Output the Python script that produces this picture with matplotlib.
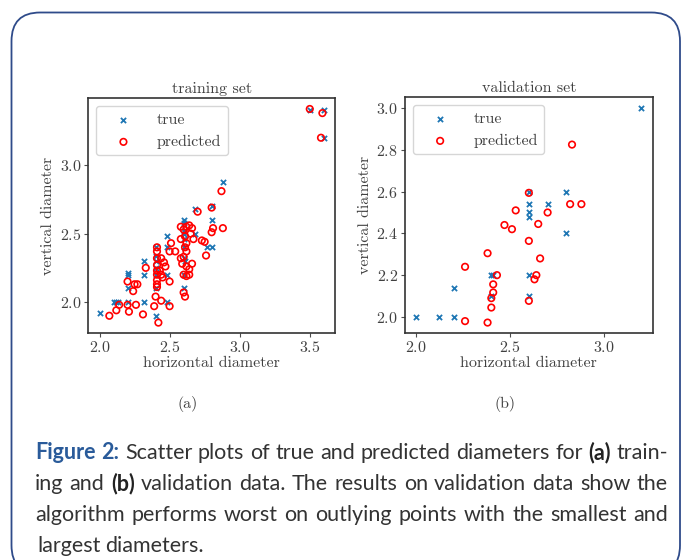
import matplotlib.pyplot as plt
from matplotlib.patches import FancyBboxPatch

plt.rcParams['font.family'] = 'cmr10'
plt.rcParams['mathtext.fontset'] = 'cm'
plt.rcParams['axes.formatter.use_mathtext'] = True

# training set, true diameters (horizontal, vertical)
train_true_x = [2.0, 2.1, 2.12, 2.13, 2.2, 2.2, 2.2, 2.2, 2.32, 2.32, 2.32, 2.4, 2.4, 2.4, 2.4,
                2.4, 2.4, 2.4, 2.48, 2.48, 2.48, 2.48, 2.6, 2.6, 2.6, 2.6, 2.6, 2.6, 2.6, 2.6,
                2.68, 2.68, 2.8, 2.8, 2.77, 2.8, 2.88, 3.5, 3.6, 3.6, 2.6, 2.61]
train_true_y = [1.92, 2.0, 2.0, 2.0, 2.0, 2.1, 2.2, 2.21, 2.3, 2.2, 2.0, 1.9, 2.1, 2.2, 2.25,
                2.3, 2.34, 2.4, 2.48, 2.4, 2.2, 2.0, 2.6, 2.58, 2.52, 2.5, 2.4, 2.32, 2.2, 2.1,
                2.68, 2.5, 2.7, 2.6, 2.4, 2.4, 2.88, 3.4, 3.4, 3.2, 2.46, 2.3]

# training set, predicted diameters
train_pred_x = [2.07, 2.12, 2.14, 2.2, 2.21, 2.26, 2.31, 2.2, 2.24, 2.25, 2.27, 2.33, 2.39, 2.4,
                2.42, 2.44, 2.5, 2.5, 2.41, 2.41, 2.41, 2.41, 2.41, 2.41, 2.41, 2.41, 2.41,
                2.44, 2.46, 2.47, 2.43, 2.44, 2.45, 2.51, 2.5, 2.54, 2.58, 2.59, 2.58, 2.6,
                2.62, 2.61, 2.62, 2.6, 2.62, 2.64, 2.61, 2.65, 2.66, 2.64, 2.66, 2.62, 2.64,
                2.62, 2.6, 2.6, 2.61, 2.67, 2.7, 2.73, 2.75, 2.76, 2.8, 2.8, 2.81, 2.88, 2.87,
                3.5, 3.59, 3.58, 2.58]
train_pred_y = [1.9, 1.94, 1.98, 1.98, 1.93, 1.98, 1.91, 2.15, 2.08, 2.13, 2.13, 2.25, 1.97, 2.04,
                1.85, 2.01, 1.97, 2.15, 2.4, 2.37, 2.32, 2.27, 2.23, 2.2, 2.16, 2.13, 2.11,
                2.32, 2.29, 2.26, 2.23, 2.2, 2.18, 2.43, 2.37, 2.37, 2.46, 2.28, 2.32, 2.33,
                2.37, 2.4, 2.43, 2.53, 2.55, 2.56, 2.48, 2.5, 2.54, 2.24, 2.28, 2.26, 2.2,
                2.19, 2.2, 2.07, 2.04, 2.46, 2.66, 2.45, 2.44, 2.34, 2.69, 2.51, 2.54, 2.54, 2.81,
                3.41, 3.38, 3.2, 2.55]

# validation set, true diameters
val_true_x = [2.0, 2.12, 2.2, 2.2, 2.4, 2.41, 2.4, 2.6, 2.6, 2.6, 2.6, 2.6, 2.6, 2.7, 2.8, 2.8, 3.2]
val_true_y = [2.0, 2.0, 2.0, 2.14, 2.2, 2.2, 2.1, 2.6, 2.54, 2.5, 2.48, 2.2, 2.1, 2.54, 2.6, 2.4, 3.0]

# validation set, predicted diameters
val_pred_x = [2.83, 2.6, 2.53, 2.7, 2.82, 2.88, 2.47, 2.51, 2.65, 2.6, 2.38, 2.66, 2.26, 2.43,
              2.64, 2.63, 2.41, 2.41, 2.4, 2.4, 2.6, 2.26, 2.38]
val_pred_y = [2.825, 2.594, 2.51, 2.5, 2.54, 2.54, 2.44, 2.42, 2.445, 2.364, 2.305, 2.28, 2.24,
              2.2, 2.2, 2.18, 2.156, 2.117, 2.09, 2.045, 2.077, 1.98, 1.973]

caption_lines = [
    [("Figure 2:", "bold", "#2a5b9a"),
     ("Scatter plots of true and predicted diameters for", "normal", "#333333"),
     ("(a)", "bold", "#222222"), ("train-", "normal", "#333333")],
    [("ing and", "normal", "#333333"), ("(b)", "bold", "#222222"),
     ("validation data. The results on validation data show the", "normal", "#333333")],
    [("algorithm performs worst on outlying points with the smallest and", "normal", "#333333")],
    [("largest diameters.", "normal", "#333333")],
]

W, H = 683, 560
fig = plt.figure(figsize=(W / 100, H / 100), dpi=100)

# rounded frame around the figure panel
frame = FancyBboxPatch((11.5 / W, -14 / H), (680 - 11.5) / W, (H - 12.5 + 14) / H,
                       boxstyle="round,pad=0,rounding_size=0.042", transform=fig.transFigure,
                       fill=False, edgecolor="#2f4b8a", linewidth=1.3, mutation_aspect=W / H)
fig.patches.append(frame)

ax1 = fig.add_axes([88.3 / W, 1 - 333.3 / H, (335 - 88.3) / W, (333.3 - 98.3) / H])
ax2 = fig.add_axes([405 / W, 1 - 333.3 / H, (652.7 - 405) / W, (333.3 - 97.3) / H])

panels = [(ax1, train_true_x, train_true_y, train_pred_x, train_pred_y, "training set", [2.0, 2.5, 3.0]),
          (ax2, val_true_x, val_true_y, val_pred_x, val_pred_y, "validation set",
           [2.0, 2.2, 2.4, 2.6, 2.8, 3.0])]

fs = 11.5
for ax, tx, ty, px, py, title, yt in panels:
    ax.scatter(tx, ty, marker="x", s=14, color="#1f77b4", linewidths=1.3, label="true")
    ax.scatter(px, py, marker="o", s=22, facecolors="none", edgecolors="red", linewidths=1.2,
               label="predicted")
    ax.set_title(title, fontsize=fs, color="0.25", pad=4)
    ax.set_xlabel("horizontal diameter", fontsize=fs, color="0.25", labelpad=1)
    ax.set_ylabel("vertical diameter", fontsize=fs, color="0.25", labelpad=3)
    ax.set_xticks([2.0, 2.5, 3.0] + ([3.5] if ax is ax1 else []))
    ax.set_yticks(yt)
    ax.tick_params(labelsize=fs, labelcolor="0.25", length=3, color="0.3", pad=2)
    for sp in ax.spines.values():
        sp.set_color("0.2")
        sp.set_linewidth(1.2)
    ax.legend(loc="upper left", fontsize=fs, handlelength=2.6, labelcolor="0.25")

fig.text(188 / W, 1 - 404 / H, "(a)", fontsize=fs, color="0.25", ha="center", va="center")
fig.text(505 / W, 1 - 404 / H, "(b)", fontsize=fs, color="0.25", ha="center", va="center")

# justified caption, placed word by word
renderer = fig.canvas.get_renderer()
x_left, x_right = 35, 668
baselines = [459, 490, 521, 552]
for i, line in enumerate(caption_lines):
    words = []
    for text, weight, color in line:
        for w in text.split():
            t = fig.text(0, 1 - baselines[i] / H, w, fontsize=15.5, weight=weight, color=color,
                         family="Lato", va="baseline")
            words.append(t)
    widths = [t.get_window_extent(renderer).width for t in words]
    if i < len(caption_lines) - 1:
        gap = (x_right - x_left - sum(widths)) / (len(words) - 1)
    else:
        gap = 4.5
    x = x_left if i < 3 else x_left + 2
    for t, w in zip(words, widths):
        t.set_x(x / W)
        x += w + gap

fig.savefig("out.png", dpi=100)
